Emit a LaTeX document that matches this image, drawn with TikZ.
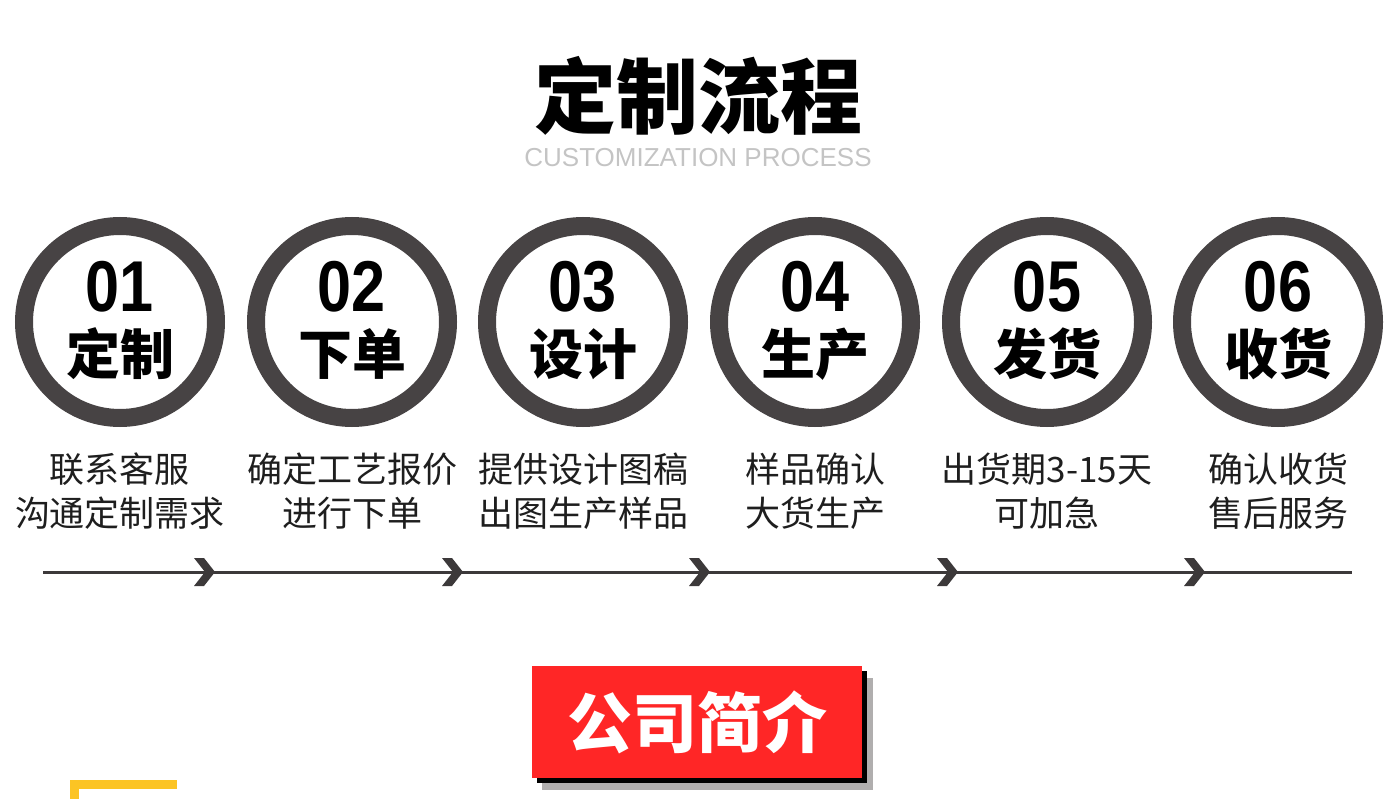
\documentclass[tikz,border=0pt]{standalone}
\usepackage{fontspec}
\setmainfont{Liberation Sans}
\newfontfamily\cjk{Noto Sans CJK SC}
\definecolor{ringgray}{HTML}{474344}
\definecolor{linegray}{HTML}{3C393A}
\definecolor{subgray}{HTML}{C4C4C4}
\definecolor{descblack}{HTML}{1E1E1E}
\definecolor{boxred}{HTML}{FF2626}
\definecolor{shadowgray}{HTML}{B0AEAE}
\definecolor{markyellow}{HTML}{FCC424}
\tikzset{
	ring/.style={circle, draw=ringgray, line width=18pt, minimum size=192pt, inner sep=0pt},
	num/.style={font=\fontsize{72}{72}\selectfont\bfseries, inner sep=0pt},
	stage/.style={font=\cjk\bfseries\fontsize{54}{54}\selectfont, inner sep=0pt},
	desc/.style={font=\cjk\fontsize{35}{44}\selectfont, align=center, text=descblack, inner sep=0pt},
	flowline/.style={draw=linegray, line width=3pt},
	chevron/.style={fill=linegray}
}
\newcommand{\digits}[1]{\scalebox{0.85}[1]{#1}}
\begin{document}
\begin{tikzpicture}[x=1pt, y=-1pt]
		\useasboundingbox (0,0) rectangle (1400,799);
		
		\node[font=\cjk\bfseries\fontsize{82}{82}\selectfont] (title) at (698,96) {定制流程};
		\node[font=\fontsize{26}{26}\selectfont, text=subgray] (subtitle) at (698,158) {CUSTOMIZATION PROCESS};
		
		\node[ring] (c1) at (120,322) {};
		\node[num] (n1) at (120,287) {\digits{01}};
		\node[stage] (s1) at (120,354) {定制};
		\node[desc] (d1) at (120,491) {联系客服\\沟通定制需求};
		
		\node[ring] (c2) at (352,322) {};
		\node[num] (n2) at (352,287) {\digits{02}};
		\node[stage] (s2) at (352,354) {下单};
		\node[desc] (d2) at (352,491) {确定工艺报价\\进行下单};
		
		\node[ring] (c3) at (583,322) {};
		\node[num] (n3) at (583,287) {\digits{03}};
		\node[stage] (s3) at (583,354) {设计};
		\node[desc] (d3) at (583,491) {提供设计图稿\\出图生产样品};
		
		\node[ring] (c4) at (815,322) {};
		\node[num] (n4) at (815,287) {\digits{04}};
		\node[stage] (s4) at (815,354) {生产};
		\node[desc] (d4) at (815,491) {样品确认\\大货生产};
		
		\node[ring] (c5) at (1047,322) {};
		\node[num] (n5) at (1047,287) {\digits{05}};
		\node[stage] (s5) at (1047,354) {发货};
		\node[desc] (d5) at (1047,491) {出货期3-15天\\可加急};
		
		\node[ring] (c6) at (1278,322) {};
		\node[num] (n6) at (1278,287) {\digits{06}};
		\node[stage] (s6) at (1278,354) {收货};
		\node[desc] (d6) at (1278,491) {确认收货\\售后服务};
		
		% flow line with chevrons
		\coordinate (flowstart) at (43,572);
		\coordinate (flowend) at (1352,572);
		\draw[flowline] (flowstart) -- (flowend);
		\foreach \tip in {215,463,710,958,1205}
			\fill[chevron] (\tip-21,558) -- (\tip-11,558) -- (\tip,572) -- (\tip-11,586) -- (\tip-21,586) -- (\tip-10,572) -- cycle;
		
		% company intro button
		\fill[shadowgray] (542,678) rectangle (873,790);
		\fill[black] (537,671) rectangle (867,783);
		\node[fill=boxred, minimum width=330pt, minimum height=112pt, inner sep=0pt, text=white,
			font=\cjk\bfseries\fontsize{65}{65}\selectfont] (intro) at (697,722) {公司简介};
		
		\fill[markyellow] (70,780) rectangle (177,789);
		\fill[markyellow] (70,780) rectangle (79,799);
	\end{tikzpicture}
\end{document}
